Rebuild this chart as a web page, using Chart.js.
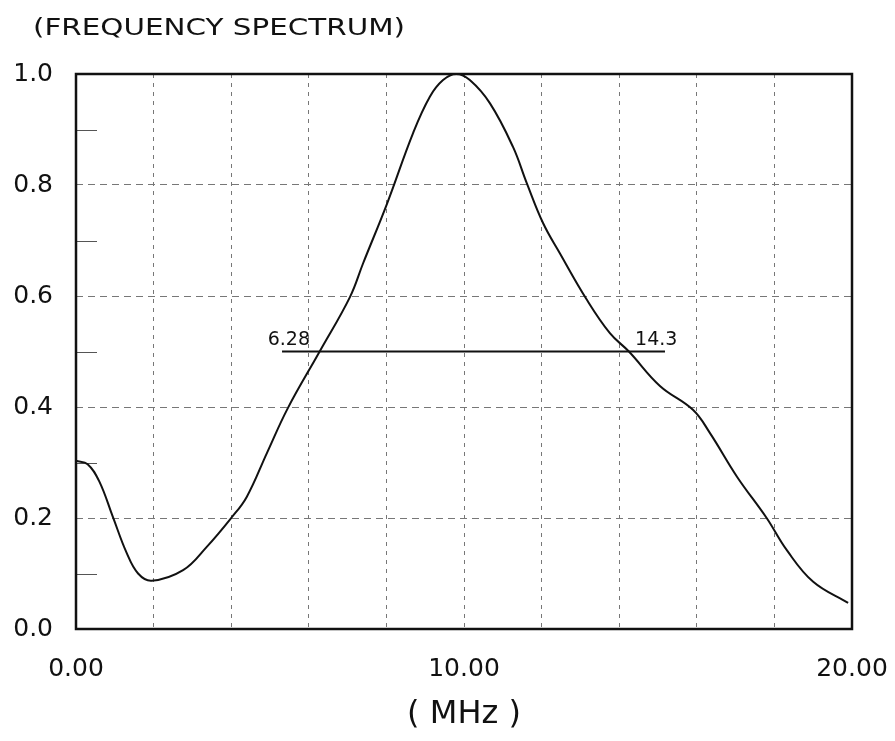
<!DOCTYPE html>
<html>
<head>
<meta charset="utf-8">
<script src="https://cdn.jsdelivr.net/npm/chart.js@4/dist/chart.umd.min.js"></script>
<style>
  html, body { margin: 0; padding: 0; background: #fff; }
  #wrap { width: 895px; height: 741px; position: relative; }
</style>
</head>
<body>
<div id="wrap"><canvas id="c" width="895" height="741"></canvas></div>
<script>
// ---- data ----
const freqMHz = [0, 0.3, 0.6, 0.95, 1.3, 1.6, 1.95, 2.76, 3.37, 4.0, 4.4, 4.92, 5.46, 6.28, 7.06, 7.4, 8.02, 8.69, 9.12, 9.46, 9.8, 10.15, 10.67, 11.26, 11.62, 12.04, 12.47, 13.15, 13.76, 14.25, 15.05, 15.9, 16.34, 17.04, 17.8, 18.32, 19.0, 19.9];
const amplitude = [0.303, 0.297, 0.266, 0.202, 0.138, 0.1, 0.087, 0.106, 0.148, 0.2, 0.238, 0.317, 0.398, 0.5, 0.598, 0.659, 0.767, 0.894, 0.959, 0.989, 1.0, 0.989, 0.947, 0.869, 0.803, 0.731, 0.677, 0.595, 0.533, 0.5, 0.438, 0.395, 0.353, 0.274, 0.2, 0.142, 0.085, 0.047];
const halfMaxX = [5.31, 15.18];
const halfMaxY = [0.5, 0.5];
const halfMaxLabels = ["6.28", "14.3"];
const xTickLabels = [0, 10, 20];
const yMinorTicks = [0.1, 0.3, 0.5, 0.7, 0.9];
const titleText = "(FREQUENCY SPECTRUM)";
const xAxisTitle = "( MHz )";

const FONT = "'DejaVu Sans', 'Liberation Sans', Arial, sans-serif";

const curve = freqMHz.map((f, i) => ({ x: f, y: amplitude[i] }));
const halfLine = halfMaxX.map((f, i) => ({ x: f, y: halfMaxY[i] }));

const decor = {
  id: 'decor',
  beforeDatasetsDraw(chart) {
    const { ctx, chartArea: a, scales: { x, y } } = chart;
    ctx.save();
    // minor ticks inward on left axis
    ctx.strokeStyle = '#555';
    ctx.lineWidth = 1;
    yMinorTicks.forEach(v => {
      const py = Math.round(y.getPixelForValue(v)) + 0.5;
      ctx.beginPath();
      ctx.moveTo(a.left, py);
      ctx.lineTo(a.left + 21, py);
      ctx.stroke();
    });
    // frame
    ctx.strokeStyle = '#111';
    ctx.lineWidth = 2.5;
    ctx.strokeRect(a.left, a.top, a.right - a.left, a.bottom - a.top);
    ctx.restore();
  },
  afterDatasetsDraw(chart) {
    const { ctx, scales: { x, y } } = chart;
    ctx.save();
    ctx.fillStyle = '#111';
    ctx.font = "19px " + FONT;
    ctx.textBaseline = 'alphabetic';
    const py = y.getPixelForValue(halfMaxY[0]) - 7;
    ctx.textAlign = 'right';
    ctx.fillText(halfMaxLabels[0], x.getPixelForValue(6.03), py);
    ctx.textAlign = 'left';
    ctx.fillText(halfMaxLabels[1], x.getPixelForValue(14.41), py);
    // title
    ctx.font = "23px " + FONT;
    const w = ctx.measureText(titleText).width;
    const targetW = 372;
    ctx.translate(33, 35);
    ctx.scale(targetW / w, 1);
    ctx.textAlign = 'left';
    ctx.fillText(titleText, 0, 0);
    ctx.restore();
  }
};

new Chart(document.getElementById('c'), {
  type: 'line',
  data: {
    datasets: [
      {
        data: curve,
        borderColor: '#111',
        borderWidth: 2,
        pointRadius: 0,
        tension: 0.4,
        fill: false
      },
      {
        data: halfLine,
        borderColor: '#111',
        borderWidth: 2.2,
        pointRadius: 0,
        tension: 0,
        fill: false
      }
    ]
  },
  options: {
    responsive: false,
    animation: false,
    devicePixelRatio: 1,
    layout: { padding: { left: 0, right: 43, top: 74, bottom: 0 } },
    plugins: { legend: { display: false }, tooltip: { enabled: false }, title: { display: false } },
    scales: {
      x: {
        type: 'linear',
        min: 0, max: 20,
        afterFit(s) { s.height = 112; s.paddingLeft = 0; s.paddingRight = 0; },
        border: { display: false, dash: [4, 5] },
        grid: {
          drawTicks: false,
          color: ctx => (ctx.tick && (ctx.tick.value === 0 || ctx.tick.value === 20)) ? 'rgba(0,0,0,0)' : '#777',
          lineWidth: 1
        },
        ticks: {
          stepSize: 2,
          autoSkip: false,
          maxRotation: 0,
          padding: 25,
          color: '#111',
          font: { family: FONT, size: 25 },
          callback: v => xTickLabels.includes(v) ? v.toFixed(2) : ''
        },
        title: {
          display: true,
          text: xAxisTitle,
          color: '#111',
          font: { family: FONT, size: 32 },
          padding: { top: 0, bottom: 7 }
        }
      },
      y: {
        type: 'linear',
        min: 0, max: 1,
        afterFit(s) { s.width = 76; s.paddingTop = 0; s.paddingBottom = 0; },
        border: { display: false, dash: [7, 5] },
        grid: {
          drawTicks: false,
          color: ctx => (ctx.tick && (ctx.tick.value === 0 || ctx.tick.value === 1)) ? 'rgba(0,0,0,0)' : '#777',
          lineWidth: 1
        },
        ticks: {
          stepSize: 0.2,
          padding: 23,
          color: '#111',
          font: { family: FONT, size: 25 },
          callback: v => v.toFixed(1)
        }
      }
    }
  },
  plugins: [decor]
});
</script>
</body>
</html>
